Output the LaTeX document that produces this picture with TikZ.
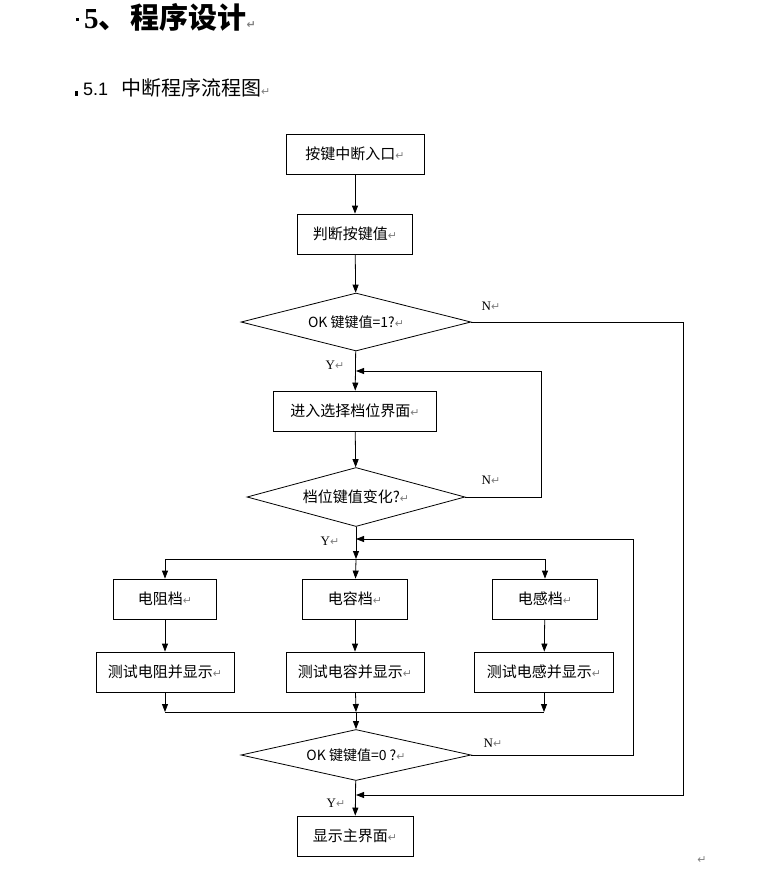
\documentclass[tikz,border=0pt]{standalone}
\usepackage{fontspec}
\setmainfont{Liberation Serif}
\newfontfamily\cjk{Noto Sans CJK SC}
\newfontfamily\symf{DejaVu Sans}
\newfontfamily\arial{Liberation Sans}
\usetikzlibrary{arrows.meta,shapes.geometric}
\newcommand\pmark{{\color{gray}\symf\fontsize{11}{12}\selectfont ↵}}
\begin{document}
\begin{tikzpicture}[x=1pt,y=-1pt,
  box/.style={draw, line width=0.8pt, minimum height=40pt, inner sep=0pt,
    font=\cjk\fontsize{15}{17}\selectfont},
  dec/.style={draw, diamond, aspect=4, line width=0.8pt, inner sep=0pt,
    font=\cjk\fontsize{14}{16}\selectfont},
  arr/.style={-{Triangle[length=8pt,width=6pt]}, line width=0.8pt},
  lbl/.style={font=\fontsize{13}{15}\selectfont, inner sep=0pt}]
  \useasboundingbox (0,0) rectangle (782,873);
  % headings
  \node[anchor=west, inner sep=0pt, font=\cjk\bfseries\fontsize{29}{32}\selectfont] (title) at (76,17)
    {\raisebox{7pt}{\rule{3pt}{3pt}}\kern5pt{\rmfamily\bfseries 5}、\kern3pt程序设计\pmark};
  \node[anchor=west, inner sep=0pt, font=\cjk\fontsize{20}{23}\selectfont] (sub) at (75,88)
    {\rule{3pt}{5pt}\kern5pt{\arial\fontsize{18}{21}\selectfont 5.1}\kern13pt 中断程序流程图\pmark};
  % main chain
  \node[box, minimum width=138pt] (b1) at (355,154) {按键中断入口\pmark};
  \node[box, minimum width=115pt] (b2) at (355,234) {判断按键值\pmark};
  \node[dec, minimum width=230pt, minimum height=58pt] (d1) at (356,322) {OK 键键值=1?\pmark};
  \node[box, minimum width=163pt] (b3) at (355,411) {进入选择档位界面\pmark};
  \node[dec, minimum width=218pt, minimum height=59pt] (d2) at (356,497)
    {\fontsize{15}{17}\selectfont 档位键值变化?\pmark};
  % three ranges
  \node[box, minimum width=103pt] (r1) at (165,599) {电阻档\pmark};
  \node[box, minimum width=105pt] (r2) at (355,599) {电容档\pmark};
  \node[box, minimum width=105pt] (r3) at (545,599) {电感档\pmark};
  \node[box, minimum width=138pt] (t1) at (165,672) {测试电阻并显示\pmark};
  \node[box, minimum width=138pt] (t2) at (355,672) {测试电容并显示\pmark};
  \node[box, minimum width=139pt] (t3) at (544,672) {测试电感并显示\pmark};
  \node[dec, minimum width=230pt, minimum height=51pt] (d3) at (356,755) {OK 键键值=0 ?\pmark};
  \node[box, minimum width=116pt] (b4) at (355,836) {显示主界面\pmark};
  % join points
  \coordinate (j1) at (356,371);
  \coordinate (j2) at (356,539);
  \coordinate (j3) at (356,795);
  \coordinate (split) at (356,559);
  \coordinate (merge) at (356,712);
  \coordinate (c1) at (683,795);
  \coordinate (c2) at (541,371);
  \coordinate (c3) at (633,539);
  % labels
  \node[lbl] (n1) at (491,306) {N\pmark};
  \node[lbl] (n2) at (491,480) {N\pmark};
  \node[lbl] (n3) at (493,743) {N\pmark};
  \node[lbl] (y1) at (335,365) {Y\pmark};
  \node[lbl] (y2) at (330,541) {Y\pmark};
  \node[lbl] (y3) at (336,803) {Y\pmark};
  \node[inner sep=0pt] (endmark) at (702,860) {\pmark};
  % connectors
  \draw[arr] (b1) -- (b2);
  \draw[arr] (b2) -- (d1);
  \draw[arr] (d1) -- (b3);
  \draw[arr] (b3) -- (d2);
  \draw[arr] (d2.east) -| (c2) -- (j1);
  \draw[arr] (d1.east) -| (c1) -- (j3);
  \draw[arr] (d2) -- (split);
  \draw[arr] (d3.east) -| (c3) -- (j2);
  \draw[arr] (split) -| (r1);
  \draw[arr] (split) -- (r2);
  \draw[arr] (split) -| (r3);
  \draw[arr] (r1) -- (t1);
  \draw[arr] (r2) -- (t2);
  \draw[arr] (r3) -- (t3);
  \draw[arr] (t1) -- (t1 |- merge);
  \draw[arr] (t2) -- (merge);
  \draw[arr] (t3) -- (t3 |- merge);
  \draw[line width=0.8pt] (t1 |- merge) -- (t3 |- merge);
  \draw[arr] (merge) -- (d3);
  \draw[arr] (d3) -- (b4);
\end{tikzpicture}
\end{document}
